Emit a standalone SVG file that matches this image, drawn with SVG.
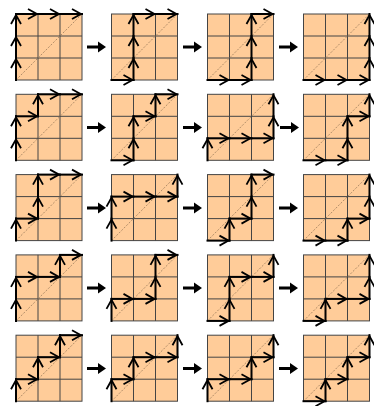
<svg xmlns="http://www.w3.org/2000/svg" xmlns:xlink="http://www.w3.org/1999/xlink" width="374" height="406" viewBox="0 0 374 406">
<style>
.cell{fill:#FFCC99;stroke:#444;stroke-width:1}
.gl{fill:none;stroke:#444;stroke-width:1}
.dg{fill:none;stroke:#9c7c5c;stroke-width:0.8;stroke-dasharray:2 1.5}
.st{fill:none;stroke:#000;stroke-width:2;stroke-linecap:square;marker-end:url(#chev)}
.big{fill:#000}
</style>
<defs>
<marker id="chev" viewBox="-12 -7 14 14" markerWidth="14" markerHeight="14" refX="0" refY="0" orient="auto" markerUnits="userSpaceOnUse" overflow="visible">
<path d="M-10,-5 L-1,0 L-10,5" fill="none" stroke="#000" stroke-width="1.8" stroke-linejoin="miter"/>
</marker>
<g id="board">
<rect class="cell" x="0" y="0" width="66" height="66"/>
<path class="gl" d="M22 0V66M44 0V66M0 22H66M0 44H66"/>
<path class="dg" d="M0 66L66 0"/>
</g>
<path id="R" class="st" d="M0 0h22"/>
<path id="U" class="st" d="M0 0v-22"/>
<path id="arr" class="big" d="M0 -1.5h11v-4l8 5.5-8 5.5v-4h-11z"/>
</defs>

<g id="panel-1-1" transform="translate(16,14)"><use href="#board"/><use href="#U" x="0" y="66"/><use href="#U" x="0" y="44"/><use href="#U" x="0" y="22"/><use href="#R" x="0" y="0"/><use href="#R" x="22" y="0"/><use href="#R" x="44" y="0"/></g>
<g id="panel-1-2" transform="translate(111.5,14)"><use href="#board"/><use href="#R" x="0" y="66"/><use href="#U" x="22" y="66"/><use href="#U" x="22" y="44"/><use href="#U" x="22" y="22"/><use href="#R" x="22" y="0"/><use href="#R" x="44" y="0"/></g>
<g id="panel-1-3" transform="translate(207.5,14)"><use href="#board"/><use href="#R" x="0" y="66"/><use href="#R" x="22" y="66"/><use href="#U" x="44" y="66"/><use href="#U" x="44" y="44"/><use href="#U" x="44" y="22"/><use href="#R" x="44" y="0"/></g>
<g id="panel-1-4" transform="translate(303.5,14)"><use href="#board"/><use href="#R" x="0" y="66"/><use href="#R" x="22" y="66"/><use href="#R" x="44" y="66"/><use href="#U" x="66" y="66"/><use href="#U" x="66" y="44"/><use href="#U" x="66" y="22"/></g>

<g id="panel-2-1" transform="translate(16,94.3)"><use href="#board"/><use href="#U" x="0" y="66"/><use href="#U" x="0" y="44"/><use href="#R" x="0" y="22"/><use href="#U" x="22" y="22"/><use href="#R" x="22" y="0"/><use href="#R" x="44" y="0"/></g>
<g id="panel-2-2" transform="translate(111.5,94.3)"><use href="#board"/><use href="#R" x="0" y="66"/><use href="#U" x="22" y="66"/><use href="#U" x="22" y="44"/><use href="#R" x="22" y="22"/><use href="#U" x="44" y="22"/><use href="#R" x="44" y="0"/></g>
<g id="panel-2-3" transform="translate(207.5,94.3)"><use href="#board"/><use href="#U" x="0" y="66"/><use href="#R" x="0" y="44"/><use href="#R" x="22" y="44"/><use href="#R" x="44" y="44"/><use href="#U" x="66" y="44"/><use href="#U" x="66" y="22"/></g>
<g id="panel-2-4" transform="translate(303.5,94.3)"><use href="#board"/><use href="#R" x="0" y="66"/><use href="#R" x="22" y="66"/><use href="#U" x="44" y="66"/><use href="#U" x="44" y="44"/><use href="#R" x="44" y="22"/><use href="#U" x="66" y="22"/></g>

<g id="panel-3-1" transform="translate(16,174.6)"><use href="#board"/><use href="#U" x="0" y="66"/><use href="#R" x="0" y="44"/><use href="#U" x="22" y="44"/><use href="#U" x="22" y="22"/><use href="#R" x="22" y="0"/><use href="#R" x="44" y="0"/></g>
<g id="panel-3-2" transform="translate(111.5,174.6)"><use href="#board"/><use href="#U" x="0" y="66"/><use href="#U" x="0" y="44"/><use href="#R" x="0" y="22"/><use href="#R" x="22" y="22"/><use href="#R" x="44" y="22"/><use href="#U" x="66" y="22"/></g>
<g id="panel-3-3" transform="translate(207.5,174.6)"><use href="#board"/><use href="#R" x="0" y="66"/><use href="#U" x="22" y="66"/><use href="#R" x="22" y="44"/><use href="#U" x="44" y="44"/><use href="#U" x="44" y="22"/><use href="#R" x="44" y="0"/></g>
<g id="panel-3-4" transform="translate(303.5,174.6)"><use href="#board"/><use href="#R" x="0" y="66"/><use href="#R" x="22" y="66"/><use href="#U" x="44" y="66"/><use href="#R" x="44" y="44"/><use href="#U" x="66" y="44"/><use href="#U" x="66" y="22"/></g>

<g id="panel-4-1" transform="translate(16,254.9)"><use href="#board"/><use href="#U" x="0" y="66"/><use href="#U" x="0" y="44"/><use href="#R" x="0" y="22"/><use href="#R" x="22" y="22"/><use href="#U" x="44" y="22"/><use href="#R" x="44" y="0"/></g>
<g id="panel-4-2" transform="translate(111.5,254.9)"><use href="#board"/><use href="#U" x="0" y="66"/><use href="#R" x="0" y="44"/><use href="#R" x="22" y="44"/><use href="#U" x="44" y="44"/><use href="#U" x="44" y="22"/><use href="#R" x="44" y="0"/></g>
<g id="panel-4-3" transform="translate(207.5,254.9)"><use href="#board"/><use href="#R" x="0" y="66"/><use href="#U" x="22" y="66"/><use href="#U" x="22" y="44"/><use href="#R" x="22" y="22"/><use href="#R" x="44" y="22"/><use href="#U" x="66" y="22"/></g>
<g id="panel-4-4" transform="translate(303.5,254.9)"><use href="#board"/><use href="#R" x="0" y="66"/><use href="#U" x="22" y="66"/><use href="#R" x="22" y="44"/><use href="#R" x="44" y="44"/><use href="#U" x="66" y="44"/><use href="#U" x="66" y="22"/></g>

<g id="panel-5-1" transform="translate(16,335.2)"><use href="#board"/><use href="#U" x="0" y="66"/><use href="#R" x="0" y="44"/><use href="#U" x="22" y="44"/><use href="#R" x="22" y="22"/><use href="#U" x="44" y="22"/><use href="#R" x="44" y="0"/></g>
<g id="panel-5-2" transform="translate(111.5,335.2)"><use href="#board"/><use href="#U" x="0" y="66"/><use href="#R" x="0" y="44"/><use href="#U" x="22" y="44"/><use href="#R" x="22" y="22"/><use href="#R" x="44" y="22"/><use href="#U" x="66" y="22"/></g>
<g id="panel-5-3" transform="translate(207.5,335.2)"><use href="#board"/><use href="#U" x="0" y="66"/><use href="#R" x="0" y="44"/><use href="#R" x="22" y="44"/><use href="#U" x="44" y="44"/><use href="#R" x="44" y="22"/><use href="#U" x="66" y="22"/></g>
<g id="panel-5-4" transform="translate(303.5,335.2)"><use href="#board"/><use href="#R" x="0" y="66"/><use href="#U" x="22" y="66"/><use href="#R" x="22" y="44"/><use href="#U" x="44" y="44"/><use href="#R" x="44" y="22"/><use href="#U" x="66" y="22"/></g>

<g id="connectors">
<use href="#arr" x="87" y="47"/><use href="#arr" x="183" y="47"/><use href="#arr" x="279" y="47"/>
<use href="#arr" x="87" y="127.5"/><use href="#arr" x="183" y="127.5"/><use href="#arr" x="280" y="127.5"/>
<use href="#arr" x="87" y="208"/><use href="#arr" x="183" y="208"/><use href="#arr" x="279" y="208"/>
<use href="#arr" x="87" y="288"/><use href="#arr" x="183" y="288"/><use href="#arr" x="279" y="288"/>
<use href="#arr" x="87" y="368.5"/><use href="#arr" x="183" y="368.5"/><use href="#arr" x="279" y="368.5"/>
</g>
</svg>
